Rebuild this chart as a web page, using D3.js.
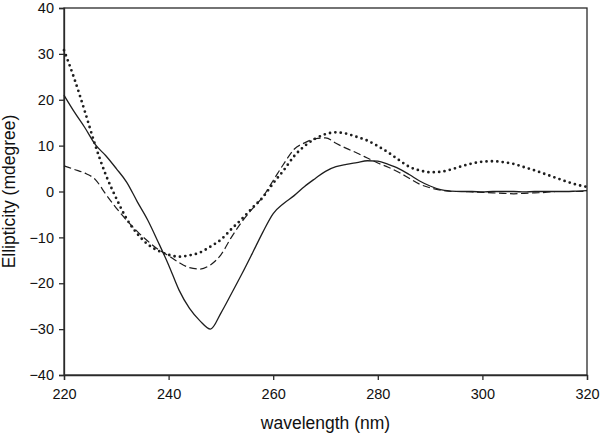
<!DOCTYPE html>
<html>
<head>
<meta charset="utf-8">
<script src="https://cdn.jsdelivr.net/npm/d3@7"></script>
<style>
  html, body { margin: 0; padding: 0; background: #fff; }
  svg { display: block; }
  text { font-family: "Liberation Sans", Arial, sans-serif; fill: #111; }
</style>
</head>
<body>
<svg id="chart" width="600" height="437"></svg>
<script>
// Wavelength grid (nm)
const wavelengths = d3.range(220, 321, 2);

// Series values (mdegree) at 2-nm steps
const solidValues = [
  21, 17.3, 13.9, 10.2, 7.8, 5, 2, -2.2, -6.2, -11,
  -16, -21.5, -25.5, -28.2, -30, -26.5, -22.3, -18, -13.5, -8.9,
  -4.8, -2.6, -0.9, 1.1, 2.8, 4.4, 5.4, 5.9, 6.3, 6.7,
  6.6, 5.9, 5, 3.7, 2.3, 1.2, 0.4, 0.1, 0, 0,
  -0.1, 0, 0, 0, -0.1, 0, 0, 0, 0, 0.1, 0.2
];
const dashedValues = [
  5.6, 4.8, 4, 2.6, -0.6, -3.6, -6.3, -8.7, -10.8, -12.6,
  -14, -15.5, -16.6, -16.9, -16, -13.8, -10, -6.6, -3.8, -1.2,
  2.4, 6, 9.2, 10.6, 11.5, 11.7, 10.5, 9.4, 8.4, 7.3,
  6.2, 5.3, 4.2, 2.9, 1.6, 0.8, 0.3, 0, 0, -0.1,
  -0.2, -0.3, -0.4, -0.5, -0.4, -0.3, -0.2, 0, 0, 0, 0
];
const dottedValues = [
  30.8, 24.5, 17.4, 10, 3.6, -1.5, -6, -9.2, -11.5, -12.9,
  -13.8, -14.2, -13.9, -13.3, -12, -10.5, -8.2, -6, -3.6, -1.3,
  1.8, 4.6, 7.7, 9.9, 11.5, 12.5, 12.9, 12.6, 11.9, 11.1,
  9.9, 8.5, 6.9, 5.4, 4.6, 4.2, 4.3, 4.8, 5.5, 6.1,
  6.5, 6.6, 6.4, 6, 5.3, 4.6, 3.8, 3, 2.2, 1.5, 1.0
];

// Tick labels
const xTicks = [220, 240, 260, 280, 300, 320];
const yTicks = [-40, -30, -20, -10, 0, 10, 20, 30, 40];
const xLabel = "wavelength (nm)";
const yLabel = "Ellipticity (mdegree)";

const svg = d3.select("#chart");
const plotLeft = 64, plotRight = 587, plotTop = 8, plotBottom = 375;

const x = d3.scaleLinear().domain([220, 320]).range([plotLeft, plotRight]);
const y = d3.scaleLinear().domain([-40, 40]).range([plotBottom, plotTop]);

const axisColor = "#2a2a2a";

// Frame
svg.append("rect")
  .attr("x", plotLeft).attr("y", plotTop)
  .attr("width", plotRight - plotLeft).attr("height", plotBottom - plotTop)
  .attr("fill", "none").attr("stroke", axisColor).attr("stroke-width", 1.3);

// Axes
const xAxis = svg.append("g")
  .attr("transform", `translate(0,${plotBottom})`)
  .call(d3.axisBottom(x).tickValues(xTicks).tickSize(5).tickPadding(9).tickFormat(d3.format("d")));
const yAxis = svg.append("g")
  .attr("transform", `translate(${plotLeft},0)`)
  .call(d3.axisLeft(y).tickValues(yTicks).tickSize(5).tickPadding(5).tickFormat(d3.format("d")));

[xAxis, yAxis].forEach(g => {
  g.select(".domain").attr("stroke", axisColor).attr("stroke-width", 1.3);
  g.selectAll(".tick line").attr("stroke", axisColor).attr("stroke-width", 1.3);
  g.selectAll(".tick text")
    .attr("fill", "#111")
    .style("font-family", '"Liberation Sans", Arial, sans-serif')
    .style("font-size", "14.5px");
});

// Axis titles
svg.append("text")
  .attr("x", (plotLeft + plotRight) / 2).attr("y", 429)
  .attr("text-anchor", "middle")
  .style("font-size", "17.5px")
  .text(xLabel);
svg.append("text")
  .attr("transform", `translate(15,${(plotTop + plotBottom) / 2}) rotate(-90)`)
  .attr("text-anchor", "middle")
  .style("font-size", "17.5px")
  .text(yLabel);

// Lines
const line = d3.line()
  .x(d => x(d[0]))
  .y(d => y(d[1]))
  .curve(d3.curveMonotoneX);

const series = [
  { values: solidValues, dash: null, width: 1.3, cap: "butt" },
  { values: dashedValues, dash: "7.5 3.5", width: 1.2, cap: "butt" },
  { values: dottedValues, dash: "0 5.4", width: 2.8, cap: "round" }
];

series.forEach(s => {
  const pts = wavelengths.map((w, i) => [w, s.values[i]]);
  const p = svg.append("path")
    .attr("d", line(pts))
    .attr("fill", "none")
    .attr("stroke", "#1e1e1e")
    .attr("stroke-width", s.width)
    .attr("stroke-linecap", s.cap)
    .attr("stroke-linejoin", "round");
  if (s.dash) p.attr("stroke-dasharray", s.dash);
});
</script>
</body>
</html>
